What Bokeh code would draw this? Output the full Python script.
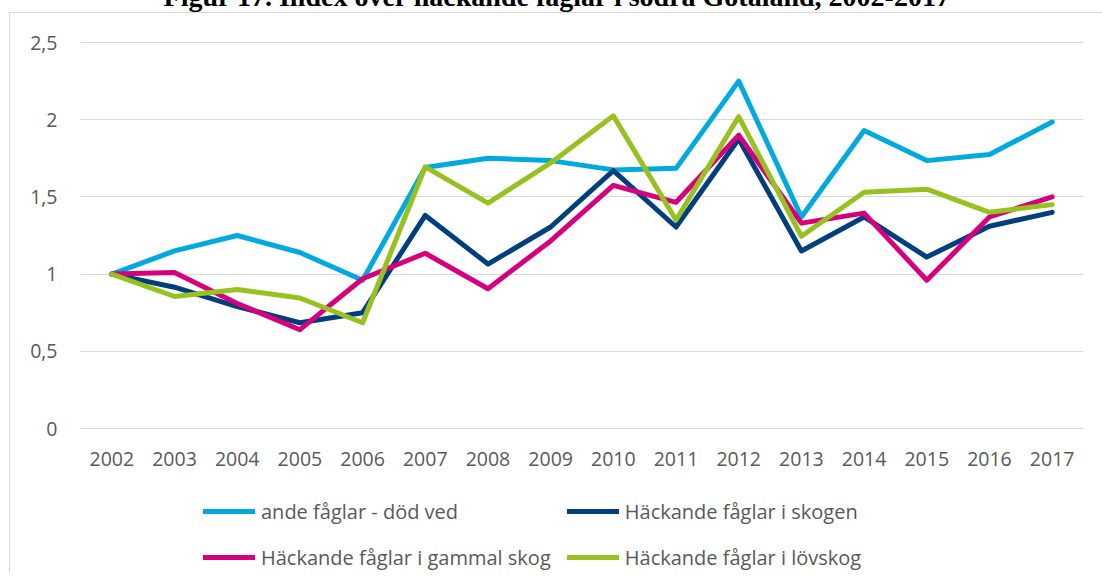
from bokeh.plotting import figure
from bokeh.models import (Range1d, FactorRange, FixedTicker, CustomJSTickFormatter,
                          Legend, LegendItem, Label)
from bokeh.embed import file_html
from bokeh.resources import INLINE

# ---- data ----
years = [str(y) for y in range(2002, 2018)]
dod_ved = [1.00, 1.15, 1.25, 1.14, 0.96, 1.69, 1.75, 1.735, 1.675, 1.685, 2.25, 1.37, 1.93, 1.735, 1.775, 1.985]
skogen = [1.00, 0.915, 0.79, 0.685, 0.75, 1.38, 1.065, 1.305, 1.67, 1.305, 1.875, 1.15, 1.37, 1.11, 1.31, 1.40]
gammal = [1.00, 1.01, 0.81, 0.64, 0.97, 1.135, 0.905, 1.215, 1.575, 1.465, 1.90, 1.33, 1.395, 0.96, 1.37, 1.50]
lovskog = [1.00, 0.855, 0.90, 0.845, 0.685, 1.695, 1.46, 1.72, 2.025, 1.35, 2.02, 1.245, 1.53, 1.55, 1.40, 1.45]

series_names = ["ande fåglar - död ved", "Häckande fåglar i skogen",
                "Häckande fåglar i gammal skog", "Häckande fåglar i lövskog"]
series_values = [dod_ved, skogen, gammal, lovskog]
series_colors = ["#00a9e0", "#003f7d", "#d6007e", "#97c11f"]
y_ticks = [0, 0.5, 1, 1.5, 2, 2.5]
title_text = "Figur 17. Index över häckande fåglar i södra Götaland, 2002-2017"

# ---- layout (pixels) ----
W, H = 1094, 585          # canvas; placed at window x=8, y=-12
TOP_OFF = -12
y0_px, y25_px = 428, 42   # window rows of value 0 and 2.5
ppu = (y0_px - y25_px) / 2.5
y_end = (y0_px - TOP_OFF) / ppu
y_start = -((TOP_OFF + H) - y0_px) / ppu

p = figure(width=W, height=H, x_range=FactorRange(*years, range_padding=0),
           y_range=Range1d(y_start, y_end), output_backend="svg", toolbar_location=None,
           tools="", min_border_left=72, min_border_right=19,
           min_border_top=0, min_border_bottom=0)
p.styles = {
    "margin-top": f"{TOP_OFF}px",
    "margin-left": "8px",
    "background-image": "linear-gradient(#d9d9d9,#d9d9d9), linear-gradient(#d9d9d9,#d9d9d9)",
    "background-size": "1px 100%, 100% 1px",
    "background-position": "1px 24px, 1px 24px",
    "background-repeat": "no-repeat",
}
p.border_fill_color = None
p.background_fill_color = None
p.outline_line_color = None

renderers = []
for name, vals, col in zip(series_names, series_values, series_colors):
    r = p.line(years, vals, line_color=col, line_width=5, line_join="round", line_cap="round")
    renderers.append(r)

# axes
p.xgrid.grid_line_color = None
p.ygrid.grid_line_color = "#d9d9d9"
p.ygrid.grid_line_width = 1
p.yaxis.ticker = FixedTicker(ticks=y_ticks)
p.yaxis.formatter = CustomJSTickFormatter(code="return tick.toString().replace('.', ',');")
p.xaxis.fixed_location = 0
for ax in (p.xaxis[0], p.yaxis[0]):
    ax.axis_line_color = None
    ax.major_tick_line_color = None
    ax.minor_tick_line_color = None
    ax.major_tick_out = 0
    ax.major_tick_in = 0
    ax.major_label_text_font = "Open Sans"
    ax.major_label_text_font_size = "19.5px"
    ax.major_label_text_color = "#595959"
p.yaxis.major_label_standoff = 23
p.xaxis.major_label_standoff = 23

# legend
legend = Legend(items=[LegendItem(label=n, renderers=[r]) for n, r in zip(series_names, renderers)],
                location=(123, 1), orientation="horizontal", ncols=2,
                glyph_width=52, glyph_height=30, label_height=30, label_standoff=6,
                spacing=16, padding=0, margin=0, border_line_color=None,
                background_fill_alpha=0, label_text_font="Open Sans",
                label_text_font_size="20px", label_text_color="#595959")
p.add_layout(legend, "center")

# title (top is cut off in the reference)
title = Label(x=477, y=H - 8, x_units="screen", y_units="screen", text=title_text,
              text_font="Liberation Serif", text_font_style="bold", text_font_size="28px",
              text_color="black", text_align="center", text_baseline="alphabetic")
p.add_layout(title)

open("out.html", "w").write(file_html(p, INLINE))
